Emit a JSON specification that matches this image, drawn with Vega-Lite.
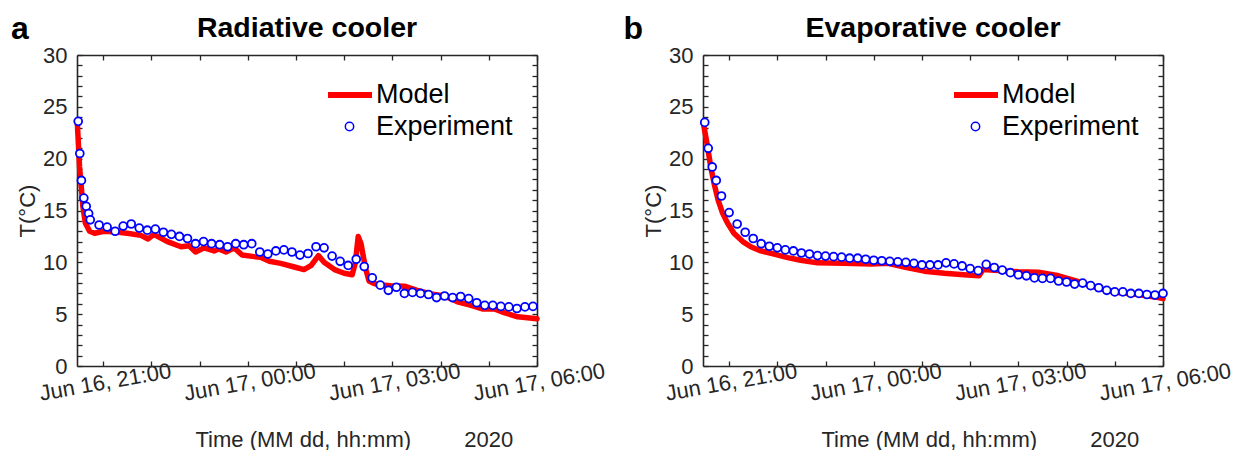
{
  "$schema": "https://vega.github.io/schema/vega-lite/v6.json",
  "background": "white",
  "padding": {"left": 10, "top": 12, "right": 0, "bottom": 0},
  "bounds": "flush",
  "spacing": 166,
  "config": {
    "font": "Liberation Sans",
    "view": {"stroke": null},
    "axis": {
      "grid": false,
      "domainColor": "#262626",
      "domainWidth": 1.6,
      "tickColor": "#262626",
      "tickWidth": 1.3,
      "labelColor": "#262626",
      "titleColor": "#262626",
      "labelFontSize": 22,
      "titleFontSize": 22,
      "titleFontWeight": "normal",
      "labelOverlap": false,
      "labelFlush": false,
      "labelBound": false
    },
    "legend": {"padding": 0, "labelFontSize": 27, "labelColor": "#000000", "title": null},
    "title": {"fontSize": 28.5, "fontWeight": "bold", "color": "#000000"}
  },
  "datasets": {
    "radModel": [
      {"t": "2020-06-16T20:28:00", "T": 23.3, "s": "Model"},
      {"t": "2020-06-16T20:29:30", "T": 21.0, "s": "Model"},
      {"t": "2020-06-16T20:30:40", "T": 19.2, "s": "Model"},
      {"t": "2020-06-16T20:32:50", "T": 17.3, "s": "Model"},
      {"t": "2020-06-16T20:34:50", "T": 15.4, "s": "Model"},
      {"t": "2020-06-16T20:37:50", "T": 13.8, "s": "Model"},
      {"t": "2020-06-16T20:43:10", "T": 13.0, "s": "Model"},
      {"t": "2020-06-16T20:49:25", "T": 12.8, "s": "Model"},
      {"t": "2020-06-16T21:01:00", "T": 13.0, "s": "Model"},
      {"t": "2020-06-16T21:13:00", "T": 12.95, "s": "Model"},
      {"t": "2020-06-16T21:30:00", "T": 12.8, "s": "Model"},
      {"t": "2020-06-16T21:47:00", "T": 12.6, "s": "Model"},
      {"t": "2020-06-16T21:56:00", "T": 12.25, "s": "Model"},
      {"t": "2020-06-16T22:03:00", "T": 12.7, "s": "Model"},
      {"t": "2020-06-16T22:20:00", "T": 12.0, "s": "Model"},
      {"t": "2020-06-16T22:37:00", "T": 11.5, "s": "Model"},
      {"t": "2020-06-16T22:47:00", "T": 11.6, "s": "Model"},
      {"t": "2020-06-16T22:55:00", "T": 11.0, "s": "Model"},
      {"t": "2020-06-16T23:06:00", "T": 11.4, "s": "Model"},
      {"t": "2020-06-16T23:18:00", "T": 11.1, "s": "Model"},
      {"t": "2020-06-16T23:24:00", "T": 11.3, "s": "Model"},
      {"t": "2020-06-16T23:33:00", "T": 11.0, "s": "Model"},
      {"t": "2020-06-16T23:43:00", "T": 11.4, "s": "Model"},
      {"t": "2020-06-16T23:53:00", "T": 10.7, "s": "Model"},
      {"t": "2020-06-17T00:08:00", "T": 10.55, "s": "Model"},
      {"t": "2020-06-17T00:16:00", "T": 10.5, "s": "Model"},
      {"t": "2020-06-17T00:27:00", "T": 10.1, "s": "Model"},
      {"t": "2020-06-17T00:41:00", "T": 9.9, "s": "Model"},
      {"t": "2020-06-17T00:58:00", "T": 9.55, "s": "Model"},
      {"t": "2020-06-17T01:10:00", "T": 9.3, "s": "Model"},
      {"t": "2020-06-17T01:19:00", "T": 9.7, "s": "Model"},
      {"t": "2020-06-17T01:28:00", "T": 10.65, "s": "Model"},
      {"t": "2020-06-17T01:35:00", "T": 10.0, "s": "Model"},
      {"t": "2020-06-17T01:48:00", "T": 9.3, "s": "Model"},
      {"t": "2020-06-17T02:00:00", "T": 8.95, "s": "Model"},
      {"t": "2020-06-17T02:10:00", "T": 8.8, "s": "Model"},
      {"t": "2020-06-17T02:14:00", "T": 10.0, "s": "Model"},
      {"t": "2020-06-17T02:17:30", "T": 12.5, "s": "Model"},
      {"t": "2020-06-17T02:21:00", "T": 11.8, "s": "Model"},
      {"t": "2020-06-17T02:24:00", "T": 10.5, "s": "Model"},
      {"t": "2020-06-17T02:27:00", "T": 9.3, "s": "Model"},
      {"t": "2020-06-17T02:31:00", "T": 8.2, "s": "Model"},
      {"t": "2020-06-17T02:36:00", "T": 8.0, "s": "Model"},
      {"t": "2020-06-17T02:42:00", "T": 7.85, "s": "Model"},
      {"t": "2020-06-17T02:58:00", "T": 7.75, "s": "Model"},
      {"t": "2020-06-17T03:15:00", "T": 7.7, "s": "Model"},
      {"t": "2020-06-17T03:31:00", "T": 7.3, "s": "Model"},
      {"t": "2020-06-17T03:48:00", "T": 6.95, "s": "Model"},
      {"t": "2020-06-17T04:05:00", "T": 6.75, "s": "Model"},
      {"t": "2020-06-17T04:21:00", "T": 6.2, "s": "Model"},
      {"t": "2020-06-17T04:38:00", "T": 5.85, "s": "Model"},
      {"t": "2020-06-17T04:52:00", "T": 5.5, "s": "Model"},
      {"t": "2020-06-17T05:07:00", "T": 5.5, "s": "Model"},
      {"t": "2020-06-17T05:19:00", "T": 5.15, "s": "Model"},
      {"t": "2020-06-17T05:36:00", "T": 4.75, "s": "Model"},
      {"t": "2020-06-17T06:00:00", "T": 4.55, "s": "Model"}
    ],
    "radExp": [
      {"t": "2020-06-16T20:29:00", "T": 23.6, "s": "Experiment"},
      {"t": "2020-06-16T20:31:00", "T": 20.5, "s": "Experiment"},
      {"t": "2020-06-16T20:33:00", "T": 17.9, "s": "Experiment"},
      {"t": "2020-06-16T20:36:00", "T": 16.2, "s": "Experiment"},
      {"t": "2020-06-16T20:39:00", "T": 15.4, "s": "Experiment"},
      {"t": "2020-06-16T20:42:00", "T": 14.7, "s": "Experiment"},
      {"t": "2020-06-16T20:44:00", "T": 14.1, "s": "Experiment"},
      {"t": "2020-06-16T20:55:00", "T": 13.6, "s": "Experiment"},
      {"t": "2020-06-16T21:05:00", "T": 13.4, "s": "Experiment"},
      {"t": "2020-06-16T21:15:00", "T": 13.0, "s": "Experiment"},
      {"t": "2020-06-16T21:25:00", "T": 13.5, "s": "Experiment"},
      {"t": "2020-06-16T21:35:00", "T": 13.7, "s": "Experiment"},
      {"t": "2020-06-16T21:45:00", "T": 13.3, "s": "Experiment"},
      {"t": "2020-06-16T21:55:00", "T": 13.1, "s": "Experiment"},
      {"t": "2020-06-16T22:05:00", "T": 13.2, "s": "Experiment"},
      {"t": "2020-06-16T22:15:00", "T": 12.9, "s": "Experiment"},
      {"t": "2020-06-16T22:25:00", "T": 12.7, "s": "Experiment"},
      {"t": "2020-06-16T22:35:00", "T": 12.5, "s": "Experiment"},
      {"t": "2020-06-16T22:45:00", "T": 12.3, "s": "Experiment"},
      {"t": "2020-06-16T22:55:00", "T": 11.8, "s": "Experiment"},
      {"t": "2020-06-16T23:05:00", "T": 12.0, "s": "Experiment"},
      {"t": "2020-06-16T23:15:00", "T": 11.8, "s": "Experiment"},
      {"t": "2020-06-16T23:25:00", "T": 11.7, "s": "Experiment"},
      {"t": "2020-06-16T23:35:00", "T": 11.5, "s": "Experiment"},
      {"t": "2020-06-16T23:45:00", "T": 11.8, "s": "Experiment"},
      {"t": "2020-06-16T23:55:00", "T": 11.7, "s": "Experiment"},
      {"t": "2020-06-17T00:05:00", "T": 11.8, "s": "Experiment"},
      {"t": "2020-06-17T00:15:00", "T": 11.0, "s": "Experiment"},
      {"t": "2020-06-17T00:25:00", "T": 10.8, "s": "Experiment"},
      {"t": "2020-06-17T00:35:00", "T": 11.1, "s": "Experiment"},
      {"t": "2020-06-17T00:45:00", "T": 11.2, "s": "Experiment"},
      {"t": "2020-06-17T00:55:00", "T": 11.0, "s": "Experiment"},
      {"t": "2020-06-17T01:05:00", "T": 10.7, "s": "Experiment"},
      {"t": "2020-06-17T01:15:00", "T": 10.85, "s": "Experiment"},
      {"t": "2020-06-17T01:25:00", "T": 11.5, "s": "Experiment"},
      {"t": "2020-06-17T01:35:00", "T": 11.4, "s": "Experiment"},
      {"t": "2020-06-17T01:45:00", "T": 10.6, "s": "Experiment"},
      {"t": "2020-06-17T01:55:00", "T": 10.1, "s": "Experiment"},
      {"t": "2020-06-17T02:05:00", "T": 9.7, "s": "Experiment"},
      {"t": "2020-06-17T02:15:00", "T": 10.3, "s": "Experiment"},
      {"t": "2020-06-17T02:25:00", "T": 9.6, "s": "Experiment"},
      {"t": "2020-06-17T02:35:00", "T": 8.5, "s": "Experiment"},
      {"t": "2020-06-17T02:45:00", "T": 7.8, "s": "Experiment"},
      {"t": "2020-06-17T02:55:00", "T": 7.3, "s": "Experiment"},
      {"t": "2020-06-17T03:05:00", "T": 7.6, "s": "Experiment"},
      {"t": "2020-06-17T03:15:00", "T": 7.0, "s": "Experiment"},
      {"t": "2020-06-17T03:25:00", "T": 7.1, "s": "Experiment"},
      {"t": "2020-06-17T03:35:00", "T": 7.0, "s": "Experiment"},
      {"t": "2020-06-17T03:45:00", "T": 6.9, "s": "Experiment"},
      {"t": "2020-06-17T03:55:00", "T": 6.6, "s": "Experiment"},
      {"t": "2020-06-17T04:05:00", "T": 6.75, "s": "Experiment"},
      {"t": "2020-06-17T04:15:00", "T": 6.6, "s": "Experiment"},
      {"t": "2020-06-17T04:25:00", "T": 6.7, "s": "Experiment"},
      {"t": "2020-06-17T04:35:00", "T": 6.5, "s": "Experiment"},
      {"t": "2020-06-17T04:45:00", "T": 6.1, "s": "Experiment"},
      {"t": "2020-06-17T04:55:00", "T": 5.85, "s": "Experiment"},
      {"t": "2020-06-17T05:05:00", "T": 5.85, "s": "Experiment"},
      {"t": "2020-06-17T05:15:00", "T": 5.75, "s": "Experiment"},
      {"t": "2020-06-17T05:25:00", "T": 5.7, "s": "Experiment"},
      {"t": "2020-06-17T05:35:00", "T": 5.55, "s": "Experiment"},
      {"t": "2020-06-17T05:45:00", "T": 5.7, "s": "Experiment"},
      {"t": "2020-06-17T05:55:00", "T": 5.75, "s": "Experiment"}
    ],
    "evapModel": [
      {"t": "2020-06-16T20:28:00", "T": 23.4, "s": "Model"},
      {"t": "2020-06-16T20:33:05", "T": 21.2, "s": "Model"},
      {"t": "2020-06-16T20:37:10", "T": 19.2, "s": "Model"},
      {"t": "2020-06-16T20:41:20", "T": 17.6, "s": "Model"},
      {"t": "2020-06-16T20:46:20", "T": 16.0, "s": "Model"},
      {"t": "2020-06-16T20:51:50", "T": 14.75, "s": "Model"},
      {"t": "2020-06-16T20:58:00", "T": 13.8, "s": "Model"},
      {"t": "2020-06-16T21:06:00", "T": 12.8, "s": "Model"},
      {"t": "2020-06-16T21:17:00", "T": 12.0, "s": "Model"},
      {"t": "2020-06-16T21:27:00", "T": 11.5, "s": "Model"},
      {"t": "2020-06-16T21:39:30", "T": 11.1, "s": "Model"},
      {"t": "2020-06-16T21:56:00", "T": 10.8, "s": "Model"},
      {"t": "2020-06-16T22:13:00", "T": 10.45, "s": "Model"},
      {"t": "2020-06-16T22:29:00", "T": 10.2, "s": "Model"},
      {"t": "2020-06-16T22:50:00", "T": 9.95, "s": "Model"},
      {"t": "2020-06-16T23:23:00", "T": 9.9, "s": "Model"},
      {"t": "2020-06-16T23:57:00", "T": 9.85, "s": "Model"},
      {"t": "2020-06-17T00:18:00", "T": 9.9, "s": "Model"},
      {"t": "2020-06-17T00:38:00", "T": 9.55, "s": "Model"},
      {"t": "2020-06-17T01:03:00", "T": 9.15, "s": "Model"},
      {"t": "2020-06-17T01:28:00", "T": 8.95, "s": "Model"},
      {"t": "2020-06-17T01:52:00", "T": 8.8, "s": "Model"},
      {"t": "2020-06-17T02:11:00", "T": 8.7, "s": "Model"},
      {"t": "2020-06-17T02:16:00", "T": 9.3, "s": "Model"},
      {"t": "2020-06-17T02:35:00", "T": 9.2, "s": "Model"},
      {"t": "2020-06-17T03:00:00", "T": 9.1, "s": "Model"},
      {"t": "2020-06-17T03:25:00", "T": 9.05, "s": "Model"},
      {"t": "2020-06-17T03:50:00", "T": 8.7, "s": "Model"},
      {"t": "2020-06-17T04:14:00", "T": 8.15, "s": "Model"},
      {"t": "2020-06-17T04:39:00", "T": 7.5, "s": "Model"},
      {"t": "2020-06-17T05:04:00", "T": 7.1, "s": "Model"},
      {"t": "2020-06-17T05:29:00", "T": 6.9, "s": "Model"},
      {"t": "2020-06-17T05:54:00", "T": 6.6, "s": "Model"},
      {"t": "2020-06-17T06:00:00", "T": 6.5, "s": "Model"}
    ],
    "evapExp": [
      {"t": "2020-06-16T20:29:40", "T": 23.5, "s": "Experiment"},
      {"t": "2020-06-16T20:34:00", "T": 21.0, "s": "Experiment"},
      {"t": "2020-06-16T20:39:00", "T": 19.2, "s": "Experiment"},
      {"t": "2020-06-16T20:44:00", "T": 17.9, "s": "Experiment"},
      {"t": "2020-06-16T20:50:30", "T": 16.4, "s": "Experiment"},
      {"t": "2020-06-16T21:00:00", "T": 14.8, "s": "Experiment"},
      {"t": "2020-06-16T21:10:00", "T": 13.7, "s": "Experiment"},
      {"t": "2020-06-16T21:20:00", "T": 12.9, "s": "Experiment"},
      {"t": "2020-06-16T21:30:00", "T": 12.3, "s": "Experiment"},
      {"t": "2020-06-16T21:40:00", "T": 11.8, "s": "Experiment"},
      {"t": "2020-06-16T21:50:00", "T": 11.55, "s": "Experiment"},
      {"t": "2020-06-16T22:00:00", "T": 11.4, "s": "Experiment"},
      {"t": "2020-06-16T22:10:00", "T": 11.2, "s": "Experiment"},
      {"t": "2020-06-16T22:20:00", "T": 11.1, "s": "Experiment"},
      {"t": "2020-06-16T22:30:00", "T": 10.9, "s": "Experiment"},
      {"t": "2020-06-16T22:40:00", "T": 10.8, "s": "Experiment"},
      {"t": "2020-06-16T22:50:00", "T": 10.65, "s": "Experiment"},
      {"t": "2020-06-16T23:00:00", "T": 10.6, "s": "Experiment"},
      {"t": "2020-06-16T23:10:00", "T": 10.55, "s": "Experiment"},
      {"t": "2020-06-16T23:20:00", "T": 10.5, "s": "Experiment"},
      {"t": "2020-06-16T23:30:00", "T": 10.4, "s": "Experiment"},
      {"t": "2020-06-16T23:40:00", "T": 10.4, "s": "Experiment"},
      {"t": "2020-06-16T23:50:00", "T": 10.3, "s": "Experiment"},
      {"t": "2020-06-17T00:00:00", "T": 10.2, "s": "Experiment"},
      {"t": "2020-06-17T00:10:00", "T": 10.15, "s": "Experiment"},
      {"t": "2020-06-17T00:20:00", "T": 10.1, "s": "Experiment"},
      {"t": "2020-06-17T00:30:00", "T": 10.05, "s": "Experiment"},
      {"t": "2020-06-17T00:40:00", "T": 10.0, "s": "Experiment"},
      {"t": "2020-06-17T00:50:00", "T": 9.9, "s": "Experiment"},
      {"t": "2020-06-17T01:00:00", "T": 9.75, "s": "Experiment"},
      {"t": "2020-06-17T01:10:00", "T": 9.75, "s": "Experiment"},
      {"t": "2020-06-17T01:20:00", "T": 9.75, "s": "Experiment"},
      {"t": "2020-06-17T01:30:00", "T": 9.95, "s": "Experiment"},
      {"t": "2020-06-17T01:40:00", "T": 9.85, "s": "Experiment"},
      {"t": "2020-06-17T01:50:00", "T": 9.65, "s": "Experiment"},
      {"t": "2020-06-17T02:00:00", "T": 9.4, "s": "Experiment"},
      {"t": "2020-06-17T02:10:00", "T": 9.2, "s": "Experiment"},
      {"t": "2020-06-17T02:20:00", "T": 9.8, "s": "Experiment"},
      {"t": "2020-06-17T02:30:00", "T": 9.5, "s": "Experiment"},
      {"t": "2020-06-17T02:40:00", "T": 9.25, "s": "Experiment"},
      {"t": "2020-06-17T02:50:00", "T": 9.0, "s": "Experiment"},
      {"t": "2020-06-17T03:00:00", "T": 8.8, "s": "Experiment"},
      {"t": "2020-06-17T03:10:00", "T": 8.7, "s": "Experiment"},
      {"t": "2020-06-17T03:20:00", "T": 8.5, "s": "Experiment"},
      {"t": "2020-06-17T03:30:00", "T": 8.45, "s": "Experiment"},
      {"t": "2020-06-17T03:40:00", "T": 8.45, "s": "Experiment"},
      {"t": "2020-06-17T03:50:00", "T": 8.2, "s": "Experiment"},
      {"t": "2020-06-17T04:00:00", "T": 8.1, "s": "Experiment"},
      {"t": "2020-06-17T04:10:00", "T": 7.9, "s": "Experiment"},
      {"t": "2020-06-17T04:20:00", "T": 8.0, "s": "Experiment"},
      {"t": "2020-06-17T04:30:00", "T": 7.75, "s": "Experiment"},
      {"t": "2020-06-17T04:40:00", "T": 7.55, "s": "Experiment"},
      {"t": "2020-06-17T04:50:00", "T": 7.3, "s": "Experiment"},
      {"t": "2020-06-17T05:00:00", "T": 7.15, "s": "Experiment"},
      {"t": "2020-06-17T05:10:00", "T": 7.15, "s": "Experiment"},
      {"t": "2020-06-17T05:20:00", "T": 7.0, "s": "Experiment"},
      {"t": "2020-06-17T05:30:00", "T": 7.0, "s": "Experiment"},
      {"t": "2020-06-17T05:40:00", "T": 6.9, "s": "Experiment"},
      {"t": "2020-06-17T05:50:00", "T": 6.85, "s": "Experiment"},
      {"t": "2020-06-17T06:00:00", "T": 7.0, "s": "Experiment"}
    ]
  },
  "resolve": {
    "scale": {"x": "independent", "y": "independent", "stroke": "independent", "shape": "independent"},
    "legend": {"stroke": "independent", "shape": "independent"}
  },
  "hconcat": [
    {
      "width": 460,
      "height": 311,
      "title": {"text": "Radiative cooler", "anchor": "middle", "offset": -30},
      "resolve": {"axis": {"x": "independent", "y": "independent"}},
      "layer": [
        {
          "data": {"name": "radModel"},
          "mark": {"type": "line", "strokeWidth": 5.5, "strokeJoin": "round", "strokeCap": "round"},
          "encoding": {
            "x": {"field": "t", "type": "temporal",
              "scale": {"domain": [{"year": 2020, "month": 6, "date": 16, "hours": 20, "minutes": 27, "seconds": 30}, {"year": 2020, "month": 6, "date": 17, "hours": 6, "minutes": 0}]},
              "axis": {"orient": "bottom", "tickSize": -5, "labelPadding": 11, "labelAngle": -10, "labelAlign": "center", "labelBaseline": "top",
                "values": [{"year": 2020, "month": 6, "date": 16, "hours": 21}, {"year": 2020, "month": 6, "date": 16, "hours": 22}, {"year": 2020, "month": 6, "date": 16, "hours": 23}, {"year": 2020, "month": 6, "date": 17, "hours": 0}, {"year": 2020, "month": 6, "date": 17, "hours": 1}, {"year": 2020, "month": 6, "date": 17, "hours": 2}, {"year": 2020, "month": 6, "date": 17, "hours": 3}, {"year": 2020, "month": 6, "date": 17, "hours": 4}, {"year": 2020, "month": 6, "date": 17, "hours": 5}, {"year": 2020, "month": 6, "date": 17, "hours": 6}],
                "labelExpr": "hours(datum.value) % 3 === 0 ? timeFormat(datum.value, '%b %d, %H:%M') : ''",
                "title": "Time (MM dd, hh:mm)\u00a0\u00a0\u00a0\u00a0\u00a0\u00a0\u00a0\u00a0\u20092020", "titleAlign": "left", "titleBaseline": "alphabetic", "titleX": 118, "titleY": 80}},
            "y": {"field": "T", "type": "quantitative", "scale": {"domain": [0, 30]},
              "axis": {"orient": "left", "tickSize": -5, "labelPadding": 15, "values": [0,1,2,3,4,5,6,7,8,9,10,11,12,13,14,15,16,17,18,19,20,21,22,23,24,25,26,27,28,29,30],
                "labelExpr": "datum.value % 5 === 0 ? datum.value : ''",
                "title": "T(°C)", "titleAlign": "center", "titleBaseline": "middle", "titleX": -50, "titleY": 155.5}},
            "stroke": {"field": "s", "type": "nominal", "scale": {"domain": ["Model"], "range": ["#ff0000"]},
              "legend": {"orient": "none", "legendX": 248, "legendY": 15, "symbolType": "stroke", "symbolSize": 1936, "symbolStrokeWidth": 6, "labelOffset": 1}}
          }
        },
        {
          "data": {"name": "radExp"},
          "mark": {"type": "point", "shape": "circle", "size": 62, "filled": true, "fill": "white", "stroke": "#0000ff", "strokeWidth": 1.8, "opacity": 1},
          "encoding": {
            "x": {"field": "t", "type": "temporal",
              "axis": {"orient": "top", "tickSize": -5, "labels": false,
                "values": [{"year": 2020, "month": 6, "date": 16, "hours": 21}, {"year": 2020, "month": 6, "date": 16, "hours": 22}, {"year": 2020, "month": 6, "date": 16, "hours": 23}, {"year": 2020, "month": 6, "date": 17, "hours": 0}, {"year": 2020, "month": 6, "date": 17, "hours": 1}, {"year": 2020, "month": 6, "date": 17, "hours": 2}, {"year": 2020, "month": 6, "date": 17, "hours": 3}, {"year": 2020, "month": 6, "date": 17, "hours": 4}, {"year": 2020, "month": 6, "date": 17, "hours": 5}, {"year": 2020, "month": 6, "date": 17, "hours": 6}],
                "title": "a", "titleFontSize": 32, "titleFontWeight": "bold", "titleColor": "#000000", "titleAlign": "left", "titleBaseline": "alphabetic", "titleX": -66.5, "titleY": -17}},
            "y": {"field": "T", "type": "quantitative",
              "axis": {"orient": "right", "tickSize": -5, "labels": false, "title": null, "values": [0,1,2,3,4,5,6,7,8,9,10,11,12,13,14,15,16,17,18,19,20,21,22,23,24,25,26,27,28,29,30]}},
            "shape": {"field": "s", "type": "nominal", "scale": {"domain": ["Experiment"], "range": ["circle"]},
              "legend": {"orient": "none", "legendX": 259, "legendY": 58, "symbolSize": 70, "labelOffset": 13,
                "encode": {"symbols": {"update": {"fill": {"value": "white"}, "stroke": {"value": "#0000ff"}, "strokeWidth": {"value": 1.9}, "opacity": {"value": 1}}}}}}
          }
        }
      ]
    },
    {
      "width": 460,
      "height": 311,
      "title": {"text": "Evaporative cooler", "anchor": "middle", "offset": -30},
      "resolve": {"axis": {"x": "independent", "y": "independent"}},
      "layer": [
        {
          "data": {"name": "evapModel"},
          "mark": {"type": "line", "strokeWidth": 5.5, "strokeJoin": "round", "strokeCap": "round"},
          "encoding": {
            "x": {"field": "t", "type": "temporal",
              "scale": {"domain": [{"year": 2020, "month": 6, "date": 16, "hours": 20, "minutes": 27, "seconds": 30}, {"year": 2020, "month": 6, "date": 17, "hours": 6, "minutes": 0}]},
              "axis": {"orient": "bottom", "tickSize": -5, "labelPadding": 11, "labelAngle": -10, "labelAlign": "center", "labelBaseline": "top",
                "values": [{"year": 2020, "month": 6, "date": 16, "hours": 21}, {"year": 2020, "month": 6, "date": 16, "hours": 22}, {"year": 2020, "month": 6, "date": 16, "hours": 23}, {"year": 2020, "month": 6, "date": 17, "hours": 0}, {"year": 2020, "month": 6, "date": 17, "hours": 1}, {"year": 2020, "month": 6, "date": 17, "hours": 2}, {"year": 2020, "month": 6, "date": 17, "hours": 3}, {"year": 2020, "month": 6, "date": 17, "hours": 4}, {"year": 2020, "month": 6, "date": 17, "hours": 5}, {"year": 2020, "month": 6, "date": 17, "hours": 6}],
                "labelExpr": "hours(datum.value) % 3 === 0 ? timeFormat(datum.value, '%b %d, %H:%M') : ''",
                "title": "Time (MM dd, hh:mm)\u00a0\u00a0\u00a0\u00a0\u00a0\u00a0\u00a0\u00a0\u20092020", "titleAlign": "left", "titleBaseline": "alphabetic", "titleX": 118, "titleY": 80}},
            "y": {"field": "T", "type": "quantitative", "scale": {"domain": [0, 30]},
              "axis": {"orient": "left", "tickSize": -5, "labelPadding": 15, "values": [0,1,2,3,4,5,6,7,8,9,10,11,12,13,14,15,16,17,18,19,20,21,22,23,24,25,26,27,28,29,30],
                "labelExpr": "datum.value % 5 === 0 ? datum.value : ''",
                "title": "T(°C)", "titleAlign": "center", "titleBaseline": "middle", "titleX": -50, "titleY": 155.5}},
            "stroke": {"field": "s", "type": "nominal", "scale": {"domain": ["Model"], "range": ["#ff0000"]},
              "legend": {"orient": "none", "legendX": 248, "legendY": 15, "symbolType": "stroke", "symbolSize": 1936, "symbolStrokeWidth": 6, "labelOffset": 1}}
          }
        },
        {
          "data": {"name": "evapExp"},
          "mark": {"type": "point", "shape": "circle", "size": 62, "filled": true, "fill": "white", "stroke": "#0000ff", "strokeWidth": 1.8, "opacity": 1},
          "encoding": {
            "x": {"field": "t", "type": "temporal",
              "axis": {"orient": "top", "tickSize": -5, "labels": false,
                "values": [{"year": 2020, "month": 6, "date": 16, "hours": 21}, {"year": 2020, "month": 6, "date": 16, "hours": 22}, {"year": 2020, "month": 6, "date": 16, "hours": 23}, {"year": 2020, "month": 6, "date": 17, "hours": 0}, {"year": 2020, "month": 6, "date": 17, "hours": 1}, {"year": 2020, "month": 6, "date": 17, "hours": 2}, {"year": 2020, "month": 6, "date": 17, "hours": 3}, {"year": 2020, "month": 6, "date": 17, "hours": 4}, {"year": 2020, "month": 6, "date": 17, "hours": 5}, {"year": 2020, "month": 6, "date": 17, "hours": 6}],
                "title": "b", "titleFontSize": 32, "titleFontWeight": "bold", "titleColor": "#000000", "titleAlign": "left", "titleBaseline": "alphabetic", "titleX": -80, "titleY": -17}},
            "y": {"field": "T", "type": "quantitative",
              "axis": {"orient": "right", "tickSize": -5, "labels": false, "title": null, "values": [0,1,2,3,4,5,6,7,8,9,10,11,12,13,14,15,16,17,18,19,20,21,22,23,24,25,26,27,28,29,30]}},
            "shape": {"field": "s", "type": "nominal", "scale": {"domain": ["Experiment"], "range": ["circle"]},
              "legend": {"orient": "none", "legendX": 259, "legendY": 58, "symbolSize": 70, "labelOffset": 13,
                "encode": {"symbols": {"update": {"fill": {"value": "white"}, "stroke": {"value": "#0000ff"}, "strokeWidth": {"value": 1.9}, "opacity": {"value": 1}}}}}}
          }
        }
      ]
    }
  ]
}
